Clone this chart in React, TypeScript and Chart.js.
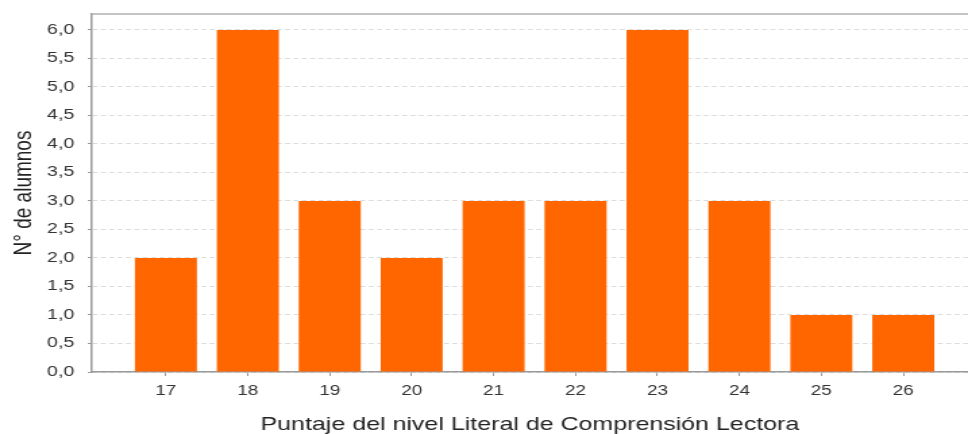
import React, { useEffect, useRef } from "react";
import { Chart, registerables } from "chart.js";

Chart.register(...registerables);

const categories = [17, 18, 19, 20, 21, 22, 23, 24, 25, 26];
const counts = [2, 6, 3, 2, 3, 3, 6, 3, 1, 1];
const yTicks = [0, 0.5, 1, 1.5, 2, 2.5, 3, 3.5, 4, 4.5, 5, 5.5, 6];
const xTitle = "Puntaje del nivel Literal de Comprensión Lectora";
const yTitle = "N° de alumnos";

const FONT = "'Liberation Sans', Arial, sans-serif";
const OUT_W = 968;
const OUT_H = 434;
const INNER_W = 717;
const SX = OUT_W / INNER_W;

export default function App() {
  const ref = useRef<HTMLCanvasElement | null>(null);
  useEffect(() => {
    if (!ref.current) return;
    const topBorder = {
      id: "topBorder",
      afterDraw(chart: any) {
        const { ctx, chartArea } = chart;
        ctx.save();
        ctx.strokeStyle = "#b0b0b0";
        ctx.lineWidth = 1.5;
        ctx.beginPath();
        ctx.moveTo(chartArea.left, chartArea.top);
        ctx.lineTo(chartArea.right, chartArea.top);
        ctx.stroke();
        ctx.restore();
      },
    };
    const chart = new Chart(ref.current, {
      type: "bar",
      data: {
        datasets: [
          {
            data: categories.map((c, i) => ({ x: c, y: counts[i] })),
            backgroundColor: "#FF6600",
            borderWidth: 0,
            categoryPercentage: 1,
            barPercentage: 0.757,
          },
        ],
      },
      plugins: [topBorder],
      options: {
        animation: false,
        responsive: false,
        maintainAspectRatio: false,
        devicePixelRatio: 1,
        layout: { padding: { top: 14, right: 0, left: 0, bottom: 0 } },
        plugins: { legend: { display: false }, tooltip: { enabled: false } },
        scales: {
          x: {
            type: "linear",
            offset: false,
            min: 16.096,
            max: 26.79,
            afterBuildTicks: (axis: any) => {
              axis.ticks = categories.map((v) => ({ value: v }));
            },
            afterFit: (axis: any) => {
              axis.height = 62;
              axis.paddingLeft = 0;
              axis.paddingRight = 0;
            },
            grid: {
              offset: false,
              drawOnChartArea: false,
              drawTicks: true,
              tickLength: 4,
              tickColor: "#999",
              tickBorderDash: [],
            },
            border: { color: "#9a9a9a", width: 1.5 },
            ticks: {
              color: "#333",
              font: { family: FONT, size: 14 },
              padding: 7,
              autoSkip: false,
              maxRotation: 0,
              callback: (v: any) => String(v),
            },
            title: {
              display: true,
              text: xTitle,
              color: "#222",
              font: { family: FONT, size: 18.5, lineHeight: 0.95 },
              padding: { top: 0, bottom: 0 },
            },
          },
          y: {
            min: 0,
            max: 6.28,
            afterBuildTicks: (axis: any) => {
              axis.ticks = yTicks.map((v) => ({ value: v }));
            },
            afterFit: (axis: any) => {
              axis.width = 68;
              axis.paddingTop = 0;
              axis.paddingBottom = 0;
            },
            grid: {
              color: "#dcdcdc",
              lineWidth: 1,
              tickLength: 3,
              tickColor: "#999",
              tickBorderDash: [],
            },
            border: { color: "#9a9a9a", width: 1.5, dash: [3.7, 2.5] },
            ticks: {
              color: "#333",
              font: { family: FONT, size: 14.5 },
              padding: 10,
              callback: (v: any) => Number(v).toFixed(1).replace(".", ","),
            },
            title: {
              display: true,
              text: yTitle,
              color: "#222",
              font: { family: FONT, size: 19 },
              padding: { top: 6, bottom: 0 },
            },
          },
        },
      },
    });
    return () => chart.destroy();
  }, []);
  return (
    <div
      style={{
        position: "absolute",
        left: 0,
        top: 0,
        width: OUT_W,
        height: OUT_H,
        overflow: "hidden",
        background: "#fff",
      }}
    >
      <canvas
        ref={ref}
        width={INNER_W}
        height={OUT_H}
        style={{
          width: INNER_W,
          height: OUT_H,
          display: "block",
          transform: `scaleX(${SX})`,
          transformOrigin: "0 0",
        }}
      />
    </div>
  );
}
